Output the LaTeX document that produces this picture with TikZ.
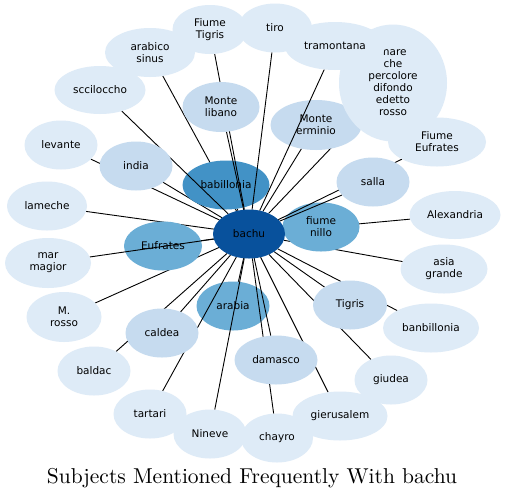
\documentclass[tikz,border=0pt]{standalone}
\usepackage{fontspec}
\newfontfamily\nodefont{DejaVu Sans}
\usetikzlibrary{shapes.geometric}
\definecolor{cA}{HTML}{DEEBF7}
\definecolor{cB}{HTML}{C6DBEF}
\definecolor{cC}{HTML}{6BAED6}
\definecolor{cD}{HTML}{4292C6}
\definecolor{cE}{HTML}{08519C}
\pgfdeclarelayer{bgl}
\pgfdeclarelayer{eone}
\pgfdeclarelayer{none}
\pgfdeclarelayer{etwo}
\pgfdeclarelayer{ntwo}
\pgfsetlayers{bgl,eone,none,etwo,ntwo,main}
\tikzset{
  bub/.style={ellipse, inner sep=0pt, outer sep=0pt, align=center, text=black,
    font=\nodefont\fontsize{10.5}{12}\selectfont},
  lvA/.style={bub, fill=cA},
  lvB/.style={bub, fill=cB},
  lvC/.style={bub, fill=cC},
  lvD/.style={bub, fill=cD},
  lvE/.style={bub, fill=cE},
  sz/.style 2 args={minimum width=#1pt, minimum height=#2pt},
  link/.style={line width=0.9pt, black},
}
\begin{document}
\begin{tikzpicture}[x=1pt,y=-1pt]
\begin{pgfonlayer}{bgl}
\fill[white] (0,0) rectangle (505,499);
\end{pgfonlayer}
\useasboundingbox (0,0) rectangle (505,499);

% first layer of middle nodes
\begin{pgfonlayer}{none}
\node[lvD, sz={87}{49}] (babillonia) at (226,185) {babillonia};
\node[lvC, sz={78}{49}] (eufr) at (163,246) {Eufrates};
\node[lvB, sz={91}{50}] (merm) at (316,125) {Monte\\erminio};
\node[lvC, sz={73}{49}] (arabia) at (233,306) {arabia};
\node[lvC, sz={77}{49}] (nillo) at (321,227) {fiume\\nillo};
\end{pgfonlayer}

% second layer of middle nodes
\begin{pgfonlayer}{ntwo}
\node[lvB, sz={77}{50}] (mlib) at (221,107) {Monte\\libano};
\node[lvB, sz={73}{49}] (india) at (136,166) {india};
\node[lvB, sz={73}{49}] (salla) at (373,182) {salla};
\node[lvB, sz={74}{49}] (tigris) at (350,305) {Tigris};
\node[lvB, sz={83}{49}] (damasco) at (276,360) {damasco};
\node[lvB, sz={73}{49}] (caldea) at (162,333) {caldea};
\end{pgfonlayer}

% outer nodes
\node[lvA, sz={108}{117}] (mare) at (393,83) {mare\\che\\percolore\\difondo\\edetto\\rosso};
\node[lvA, sz={75}{49}] (ftigris) at (210,29.5) {Fiume\\Tigris};
\node[lvA, sz={74}{49}] (tiro) at (275,28) {tiro};
\node[lvA, sz={100}{48}] (tramontana) at (335,46) {tramontana};
\node[lvA, sz={90}{49}] (arabico) at (150,52.5) {arabico\\sinus};
\node[lvA, sz={91}{48}] (sccil) at (100,90) {scciloccho};
\node[lvA, sz={73}{49}] (levante) at (61,145) {levante};
\node[lvA, sz={80}{49}] (lameche) at (47,206) {lameche};
\node[lvA, sz={86}{50}] (marmagior) at (48,263) {mar\\magior};
\node[lvA, sz={75}{50}] (mrosso) at (64,317) {M.\\rosso};
\node[lvA, sz={73}{49}] (baldac) at (94,371) {baldac};
\node[lvA, sz={73}{49}] (tartari) at (150,414) {tartari};
\node[lvA, sz={73}{49}] (nineve) at (210,434) {Nineve};
\node[lvA, sz={72}{49}] (chayro) at (277,438) {chayro};
\node[lvA, sz={95}{49}] (gierusalem) at (340,416) {gierusalem};
\node[lvA, sz={73}{49}] (giudea) at (391,380) {giudea};
\node[lvA, sz={96}{49}] (banbillonia) at (431,328) {banbillonia};
\node[lvA, sz={87}{49}] (asia) at (444,269) {asia\\grande};
\node[lvA, sz={91}{48}] (alex) at (455,215) {Alexandria};
\node[lvA, sz={98}{49}] (feufr) at (437,142) {Fiume\\Eufrates};

% centre
\node[lvE, sz={72}{49}] (bachu) at (249,234) {bachu};

% title
\node[anchor=base, font=\fontsize{10}{12}\selectfont] (title) at (252,483)
  {\scalebox{2.15}{Subjects Mentioned Frequently With bachu}};

% edges hidden under the middle nodes
\begin{pgfonlayer}{eone}
\foreach \t in {arabico,levante,alex,banbillonia,giudea,baldac,
  lameche,mrosso,gierusalem,asia,mare,
  india,nillo,tigris,caldea,babillonia,eufr,merm,arabia}
  \draw[link] (bachu) -- (\t);
\end{pgfonlayer}

% edges drawn over the first layer of middle nodes
\begin{pgfonlayer}{etwo}
\foreach \t in {sccil,ftigris,mlib,marmagior,nineve,tiro,tramontana,
  tartari,damasco,chayro,feufr,salla}
  \draw[link] (bachu) -- (\t);
\end{pgfonlayer}
\end{tikzpicture}
\end{document}
